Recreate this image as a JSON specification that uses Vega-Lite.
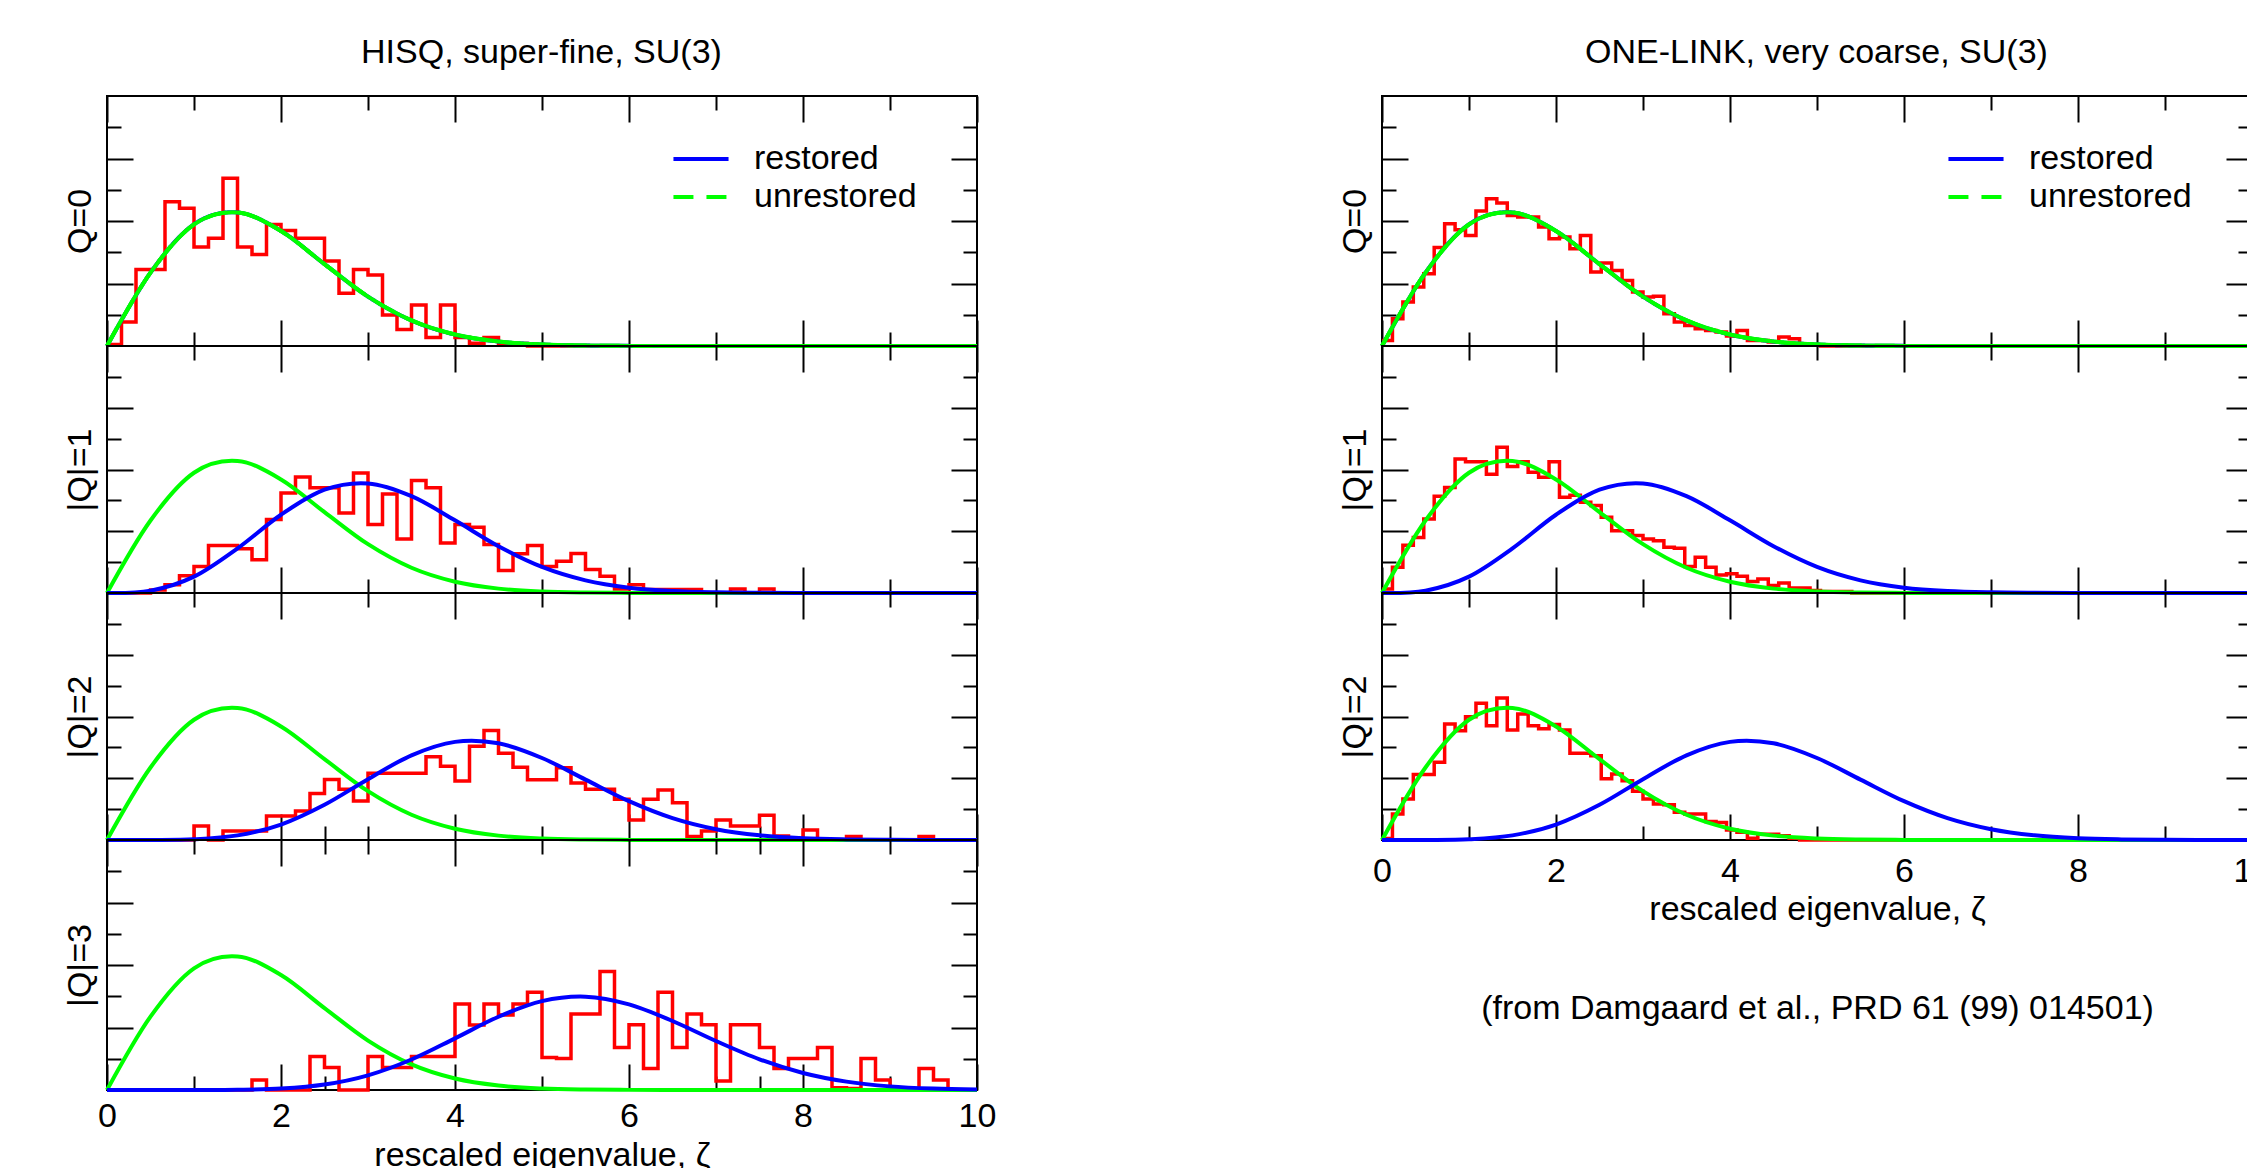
{
"$schema": "https://vega.github.io/schema/vega-lite/v6.json",
"background": "white",
"padding": {"left": 62, "top": 36, "right": 0, "bottom": 0},
"datasets": {
"curves": [
{"x":0,"p0":0,"p1":0,"p2":0,"p3":0},
{"x":0.5,"p0":0.2349,"p1":0.0075,"p2":0.0001,"p3":0},
{"x":1,"p0":0.3894,"p1":0.0529,"p2":0.0023,"p3":0.0001},
{"x":1.5,"p0":0.4273,"p1":0.1444,"p2":0.0149,"p3":0.0007},
{"x":2,"p0":0.3679,"p1":0.2535,"p2":0.0501,"p3":0.0046},
{"x":2.5,"p0":0.262,"p1":0.3345,"p2":0.1141,"p3":0.0175},
{"x":3,"p0":0.1581,"p1":0.355,"p2":0.1971,"p3":0.047},
{"x":3.5,"p0":0.0818,"p1":0.3137,"p2":0.2742,"p3":0.0977},
{"x":4,"p0":0.0366,"p1":0.2353,"p2":0.3178,"p3":0.1652},
{"x":4.5,"p0":0.0142,"p1":0.1516,"p2":0.3131,"p3":0.2344},
{"x":5,"p0":0.0048,"p1":0.0845,"p2":0.2656,"p3":0.2843},
{"x":5.5,"p0":0.0014,"p1":0.041,"p2":0.1956,"p3":0.2987},
{"x":6,"p0":0.0004,"p1":0.0173,"p2":0.1257,"p3":0.2741},
{"x":6.5,"p0":0.0001,"p1":0.0064,"p2":0.0708,"p3":0.2209},
{"x":7,"p0":0,"p1":0.0021,"p2":0.035,"p3":0.1568},
{"x":7.5,"p0":0,"p1":0.0006,"p2":0.0152,"p3":0.0983},
{"x":8,"p0":0,"p1":0.0001,"p2":0.0058,"p3":0.0545},
{"x":8.5,"p0":0,"p1":0,"p2":0.002,"p3":0.0268},
{"x":9,"p0":0,"p1":0,"p2":0.0006,"p3":0.0116},
{"x":9.5,"p0":0,"p1":0,"p2":0.0002,"p3":0.0045},
{"x":10,"p0":0,"p1":0,"p2":0,"p3":0.0015}
],
"hL0": [
{"x":0,"y":0.005},{"x":0.1667,"y":0.077},{"x":0.3333,"y":0.245},{"x":0.5,"y":0.245},{"x":0.6667,"y":0.462},{"x":0.8333,"y":0.441},{"x":1,"y":0.317},{"x":1.1667,"y":0.345},{"x":1.3333,"y":0.537},{"x":1.5,"y":0.317},{"x":1.6667,"y":0.293},{"x":1.8333,"y":0.389},{"x":2,"y":0.37},{"x":2.1667,"y":0.345},{"x":2.3333,"y":0.345},{"x":2.5,"y":0.272},{"x":2.6667,"y":0.169},{"x":2.8333,"y":0.245},{"x":3,"y":0.227},{"x":3.1667,"y":0.099},{"x":3.3333,"y":0.053},{"x":3.5,"y":0.131},{"x":3.6667,"y":0.027},{"x":3.8333,"y":0.131},{"x":4,"y":0.027},{"x":4.1667,"y":0.009},{"x":4.3333,"y":0.027},{"x":4.5,"y":0.008},{"x":4.6667,"y":0.008},{"x":4.8333,"y":0},{"x":10,"y":0}
],
"hL1": [
{"x":0,"y":0},{"x":0.5,"y":0.01},{"x":0.6667,"y":0.027},{"x":0.8333,"y":0.056},{"x":1,"y":0.086},{"x":1.1667,"y":0.154},{"x":1.3333,"y":0.154},{"x":1.5,"y":0.143},{"x":1.6667,"y":0.108},{"x":1.8333,"y":0.238},{"x":2,"y":0.324},{"x":2.1667,"y":0.376},{"x":2.3333,"y":0.341},{"x":2.5,"y":0.341},{"x":2.6667,"y":0.259},{"x":2.8333,"y":0.389},{"x":3,"y":0.222},{"x":3.1667,"y":0.321},{"x":3.3333,"y":0.175},{"x":3.5,"y":0.364},{"x":3.6667,"y":0.341},{"x":3.8333,"y":0.162},{"x":4,"y":0.222},{"x":4.1667,"y":0.213},{"x":4.3333,"y":0.157},{"x":4.5,"y":0.073},{"x":4.6667,"y":0.127},{"x":4.8333,"y":0.154},{"x":5,"y":0.086},{"x":5.1667,"y":0.103},{"x":5.3333,"y":0.128},{"x":5.5,"y":0.076},{"x":5.6667,"y":0.054},{"x":5.8333,"y":0.013},{"x":6,"y":0.027},{"x":6.1667,"y":0.011},{"x":6.3333,"y":0.011},{"x":6.5,"y":0.011},{"x":6.6667,"y":0.011},{"x":6.8333,"y":0},{"x":7.1667,"y":0.013},{"x":7.3333,"y":0},{"x":7.5,"y":0.013},{"x":7.6667,"y":0},{"x":10,"y":0}
],
"hL2": [
{"x":0,"y":0},{"x":1,"y":0.045},{"x":1.1667,"y":0},{"x":1.3333,"y":0.029},{"x":1.5,"y":0.029},{"x":1.6667,"y":0.029},{"x":1.8333,"y":0.078},{"x":2,"y":0.078},{"x":2.1667,"y":0.094},{"x":2.3333,"y":0.151},{"x":2.5,"y":0.196},{"x":2.6667,"y":0.164},{"x":2.8333,"y":0.126},{"x":3,"y":0.216},{"x":3.1667,"y":0.216},{"x":3.3333,"y":0.216},{"x":3.5,"y":0.216},{"x":3.6667,"y":0.27},{"x":3.8333,"y":0.239},{"x":4,"y":0.191},{"x":4.1667,"y":0.304},{"x":4.3333,"y":0.355},{"x":4.5,"y":0.281},{"x":4.6667,"y":0.236},{"x":4.8333,"y":0.195},{"x":5,"y":0.195},{"x":5.1667,"y":0.234},{"x":5.3333,"y":0.185},{"x":5.5,"y":0.164},{"x":5.6667,"y":0.164},{"x":5.8333,"y":0.132},{"x":6,"y":0.065},{"x":6.1667,"y":0.132},{"x":6.3333,"y":0.162},{"x":6.5,"y":0.121},{"x":6.6667,"y":0.011},{"x":6.8333,"y":0.029},{"x":7,"y":0.065},{"x":7.1667,"y":0.045},{"x":7.3333,"y":0.045},{"x":7.5,"y":0.08},{"x":7.6667,"y":0.013},{"x":7.8333,"y":0},{"x":8,"y":0.032},{"x":8.1667,"y":0},{"x":8.5,"y":0.011},{"x":8.6667,"y":0},{"x":9.3333,"y":0.011},{"x":9.5,"y":0},{"x":10,"y":0}
],
"hL3": [
{"x":0,"y":0},{"x":1.6667,"y":0.032},{"x":1.8333,"y":0},{"x":2.3333,"y":0.107},{"x":2.5,"y":0.072},{"x":2.6667,"y":0},{"x":3,"y":0.107},{"x":3.1667,"y":0.072},{"x":3.3333,"y":0.072},{"x":3.5,"y":0.107},{"x":3.6667,"y":0.107},{"x":3.8333,"y":0.107},{"x":4,"y":0.275},{"x":4.1667,"y":0.208},{"x":4.3333,"y":0.275},{"x":4.5,"y":0.24},{"x":4.6667,"y":0.275},{"x":4.8333,"y":0.313},{"x":5,"y":0.104},{"x":5.1667,"y":0.101},{"x":5.3333,"y":0.243},{"x":5.5,"y":0.243},{"x":5.6667,"y":0.379},{"x":5.8333,"y":0.136},{"x":6,"y":0.209},{"x":6.1667,"y":0.069},{"x":6.3333,"y":0.313},{"x":6.5,"y":0.136},{"x":6.6667,"y":0.243},{"x":6.8333,"y":0.209},{"x":7,"y":0.029},{"x":7.1667,"y":0.209},{"x":7.3333,"y":0.209},{"x":7.5,"y":0.136},{"x":7.6667,"y":0.069},{"x":7.8333,"y":0.101},{"x":8,"y":0.101},{"x":8.1667,"y":0.136},{"x":8.3333,"y":0.007},{"x":8.5,"y":0.005},{"x":8.6667,"y":0.101},{"x":8.8333,"y":0.032},{"x":9,"y":0},{"x":9.3333,"y":0.069},{"x":9.5,"y":0.032},{"x":9.6667,"y":0},{"x":10,"y":0}
],
"hR0": [
{"x":0,"y":0.018},{"x":0.12,"y":0.087},{"x":0.24,"y":0.141},{"x":0.36,"y":0.189},{"x":0.48,"y":0.231},{"x":0.6,"y":0.315},{"x":0.72,"y":0.391},{"x":0.84,"y":0.372},{"x":0.96,"y":0.354},{"x":1.08,"y":0.432},{"x":1.2,"y":0.471},{"x":1.32,"y":0.458},{"x":1.44,"y":0.418},{"x":1.56,"y":0.413},{"x":1.68,"y":0.413},{"x":1.8,"y":0.381},{"x":1.92,"y":0.343},{"x":2.04,"y":0.349},{"x":2.16,"y":0.311},{"x":2.28,"y":0.354},{"x":2.4,"y":0.237},{"x":2.52,"y":0.266},{"x":2.64,"y":0.242},{"x":2.76,"y":0.21},{"x":2.88,"y":0.173},{"x":3,"y":0.157},{"x":3.12,"y":0.159},{"x":3.24,"y":0.103},{"x":3.36,"y":0.077},{"x":3.48,"y":0.066},{"x":3.6,"y":0.055},{"x":3.72,"y":0.05},{"x":3.84,"y":0.045},{"x":3.96,"y":0.032},{"x":4.08,"y":0.05},{"x":4.2,"y":0.018},{"x":4.32,"y":0.018},{"x":4.44,"y":0.013},{"x":4.56,"y":0.029},{"x":4.68,"y":0.023},{"x":4.8,"y":0.007},{"x":4.92,"y":0.003},{"x":5.04,"y":0},{"x":10,"y":0}
],
"hR1": [
{"x":0,"y":0.013},{"x":0.12,"y":0.083},{"x":0.24,"y":0.155},{"x":0.36,"y":0.18},{"x":0.48,"y":0.24},{"x":0.6,"y":0.313},{"x":0.72,"y":0.342},{"x":0.84,"y":0.434},{"x":0.96,"y":0.425},{"x":1.08,"y":0.425},{"x":1.2,"y":0.385},{"x":1.32,"y":0.472},{"x":1.44,"y":0.41},{"x":1.56,"y":0.425},{"x":1.68,"y":0.391},{"x":1.8,"y":0.375},{"x":1.92,"y":0.425},{"x":2.04,"y":0.31},{"x":2.16,"y":0.317},{"x":2.28,"y":0.294},{"x":2.4,"y":0.283},{"x":2.52,"y":0.245},{"x":2.64,"y":0.202},{"x":2.76,"y":0.202},{"x":2.88,"y":0.186},{"x":3,"y":0.175},{"x":3.12,"y":0.169},{"x":3.24,"y":0.148},{"x":3.36,"y":0.145},{"x":3.48,"y":0.086},{"x":3.6,"y":0.116},{"x":3.72,"y":0.083},{"x":3.84,"y":0.058},{"x":3.96,"y":0.062},{"x":4.08,"y":0.054},{"x":4.2,"y":0.037},{"x":4.32,"y":0.045},{"x":4.44,"y":0.024},{"x":4.56,"y":0.032},{"x":4.68,"y":0.016},{"x":4.8,"y":0.016},{"x":4.92,"y":0.008},{"x":5.04,"y":0.005},{"x":5.16,"y":0.005},{"x":5.28,"y":0.005},{"x":5.4,"y":0},{"x":10,"y":0}
],
"hR2": [
{"x":0,"y":0.005},{"x":0.12,"y":0.084},{"x":0.24,"y":0.133},{"x":0.36,"y":0.212},{"x":0.48,"y":0.212},{"x":0.6,"y":0.252},{"x":0.72,"y":0.376},{"x":0.84,"y":0.354},{"x":0.96,"y":0.399},{"x":1.08,"y":0.443},{"x":1.2,"y":0.37},{"x":1.32,"y":0.46},{"x":1.44,"y":0.356},{"x":1.56,"y":0.408},{"x":1.68,"y":0.37},{"x":1.8,"y":0.36},{"x":1.92,"y":0.374},{"x":2.04,"y":0.356},{"x":2.16,"y":0.281},{"x":2.28,"y":0.281},{"x":2.4,"y":0.273},{"x":2.52,"y":0.198},{"x":2.64,"y":0.214},{"x":2.76,"y":0.192},{"x":2.88,"y":0.158},{"x":3,"y":0.133},{"x":3.12,"y":0.117},{"x":3.24,"y":0.114},{"x":3.36,"y":0.09},{"x":3.48,"y":0.084},{"x":3.6,"y":0.084},{"x":3.72,"y":0.06},{"x":3.84,"y":0.057},{"x":3.96,"y":0.032},{"x":4.08,"y":0.025},{"x":4.2,"y":0.006},{"x":4.32,"y":0.019},{"x":4.44,"y":0.019},{"x":4.56,"y":0.014},{"x":4.68,"y":0.006},{"x":4.8,"y":0},{"x":10,"y":0}
]
},
"spacing": 340,
"resolve": {"scale": {"color": "independent", "strokeDash": "independent"}, "legend": {"color": "independent", "strokeDash": "independent"}},
"hconcat": [
{
"title": {"text": "HISQ, super-fine, SU(3)", "offset": 24, "anchor": "middle", "frame": "bounds", "dx": 12},
"spacing": 0,
"bounds": "flush",
"vconcat": [
{"width": 870, "height": 250,
 "resolve": {"axis": {"x": "independent", "y": "independent"}},
 "layer": [
  {"data": {"name": "hL0"}, "mark": {"type": "line", "interpolate": "step-after", "color": "#ff0000", "strokeWidth": 3.5},
   "encoding": {
    "x": {"field": "x", "type": "quantitative", "scale": {"domain": [0, 10], "nice": false, "zero": false},
          "axis": {"orient": "bottom", "values": [0,1,2,3,4,5,6,7,8,9,10], "tickSize": {"condition": {"test": "datum.value % 2 === 0", "value": -26}, "value": -14}, "labels": false, "title": null}},
    "y": {"field": "y", "type": "quantitative", "scale": {"domain": [0, 0.8], "nice": false},
          "axis": {"orient": "left", "values": [0.1,0.2,0.3,0.4,0.5,0.6,0.7], "tickSize": {"condition": {"test": "round(datum.value * 10) % 2 === 0", "value": -26}, "value": -14}, "labels": false, "title": "Q=0", "titlePadding": 9}}}},
  {"data": {"name": "curves"}, "mark": {"type": "line", "interpolate": "cardinal", "strokeWidth": 4},
   "encoding": {
    "x": {"field": "x", "type": "quantitative", "axis": {"orient": "top", "values": [0,1,2,3,4,5,6,7,8,9,10], "tickSize": {"condition": {"test": "datum.value % 2 === 0", "value": -26}, "value": -14}, "labels": false, "title": null}},
    "y": {"field": "p0", "type": "quantitative", "axis": {"orient": "right", "values": [0.1,0.2,0.3,0.4,0.5,0.6,0.7], "tickSize": {"condition": {"test": "round(datum.value * 10) % 2 === 0", "value": -26}, "value": -14}, "labels": false, "title": null}},
    "color": {"datum": "restored", "scale": {"domain": ["restored", "unrestored"], "range": ["#0000ff", "#00ff00"]},
      "legend": {"orient": "none", "legendX": 573, "legendY": 42, "title": null, "direction": "vertical", "symbolType": "M-1.45,0H1.45", "symbolSize": 1444, "symbolStrokeWidth": 4, "labelFont": "Liberation Sans", "labelFontSize": 34, "labelColor": "black", "labelOffset": 32, "labelLimit": 0, "rowPadding": 0, "padding": 0}},
    "strokeDash": {"datum": "restored", "scale": {"domain": ["restored", "unrestored"], "range": [[1, 0], [20, 13]]},
      "legend": {"orient": "none", "legendX": 573, "legendY": 42, "title": null, "direction": "vertical", "symbolType": "M-1.45,0H1.45", "symbolSize": 1444, "symbolStrokeWidth": 4, "labelFont": "Liberation Sans", "labelFontSize": 34, "labelColor": "black", "labelOffset": 32, "labelLimit": 0, "rowPadding": 0, "padding": 0}}}},
  {"data": {"name": "curves"}, "mark": {"type": "line", "interpolate": "cardinal", "color": "#00ff00", "strokeWidth": 4},
   "encoding": {"x": {"field": "x", "type": "quantitative", "axis": null}, "y": {"field": "p0", "type": "quantitative", "axis": null}}},
  {"data": {"name": "curves"}, "mark": {"type": "line", "interpolate": "cardinal", "strokeWidth": 4},
   "encoding": {"x": {"field": "x", "type": "quantitative", "axis": null}, "y": {"field": "p0", "type": "quantitative", "axis": null},
    "color": {"datum": "unrestored"}, "strokeDash": {"datum": "unrestored"}}}
 ]},
{"width": 870, "height": 247,
 "resolve": {"axis": {"x": "independent", "y": "independent"}},
 "layer": [
  {"data": {"name": "hL1"}, "mark": {"type": "line", "interpolate": "step-after", "color": "#ff0000", "strokeWidth": 3.5},
   "encoding": {
    "x": {"field": "x", "type": "quantitative", "scale": {"domain": [0, 10], "nice": false, "zero": false},
          "axis": {"orient": "bottom", "values": [0,1,2,3,4,5,6,7,8,9,10], "tickSize": {"condition": {"test": "datum.value % 2 === 0", "value": -26}, "value": -14}, "labels": false, "title": null}},
    "y": {"field": "y", "type": "quantitative", "scale": {"domain": [0, 0.8], "nice": false},
          "axis": {"orient": "left", "values": [0.1,0.2,0.3,0.4,0.5,0.6,0.7], "tickSize": {"condition": {"test": "round(datum.value * 10) % 2 === 0", "value": -26}, "value": -14}, "labels": false, "title": "|Q|=1", "titlePadding": 9}}}},
  {"data": {"name": "curves"}, "mark": {"type": "line", "interpolate": "cardinal", "color": "#00ff00", "strokeWidth": 4},
   "encoding": {
    "x": {"field": "x", "type": "quantitative", "axis": {"orient": "top", "values": [0,1,2,3,4,5,6,7,8,9,10], "tickSize": {"condition": {"test": "datum.value % 2 === 0", "value": -26}, "value": -14}, "labels": false, "title": null}},
    "y": {"field": "p0", "type": "quantitative", "axis": {"orient": "right", "values": [0.1,0.2,0.3,0.4,0.5,0.6,0.7], "tickSize": {"condition": {"test": "round(datum.value * 10) % 2 === 0", "value": -26}, "value": -14}, "labels": false, "title": null}}}},
  {"data": {"name": "curves"}, "mark": {"type": "line", "interpolate": "cardinal", "color": "#0000ff", "strokeWidth": 4},
   "encoding": {"x": {"field": "x", "type": "quantitative", "axis": null}, "y": {"field": "p1", "type": "quantitative", "axis": null}}}
 ]},
{"width": 870, "height": 247,
 "resolve": {"axis": {"x": "independent", "y": "independent"}},
 "layer": [
  {"data": {"name": "hL2"}, "mark": {"type": "line", "interpolate": "step-after", "color": "#ff0000", "strokeWidth": 3.5},
   "encoding": {
    "x": {"field": "x", "type": "quantitative", "scale": {"domain": [0, 10], "nice": false, "zero": false},
          "axis": {"orient": "bottom", "values": [0,1,2,2.5,3,4,5,6,7,7.5,8,9,10], "tickSize": {"condition": {"test": "datum.value % 2 === 0", "value": -26}, "value": -14}, "labels": false, "title": null}},
    "y": {"field": "y", "type": "quantitative", "scale": {"domain": [0, 0.8], "nice": false},
          "axis": {"orient": "left", "values": [0.1,0.2,0.3,0.4,0.5,0.6,0.7], "tickSize": {"condition": {"test": "round(datum.value * 10) % 2 === 0", "value": -26}, "value": -14}, "labels": false, "title": "|Q|=2", "titlePadding": 9}}}},
  {"data": {"name": "curves"}, "mark": {"type": "line", "interpolate": "cardinal", "color": "#00ff00", "strokeWidth": 4},
   "encoding": {
    "x": {"field": "x", "type": "quantitative", "axis": {"orient": "top", "values": [0,1,2,3,4,5,6,7,8,9,10], "tickSize": {"condition": {"test": "datum.value % 2 === 0", "value": -26}, "value": -14}, "labels": false, "title": null}},
    "y": {"field": "p0", "type": "quantitative", "axis": {"orient": "right", "values": [0.1,0.2,0.3,0.4,0.5,0.6,0.7], "tickSize": {"condition": {"test": "round(datum.value * 10) % 2 === 0", "value": -26}, "value": -14}, "labels": false, "title": null}}}},
  {"data": {"name": "curves"}, "mark": {"type": "line", "interpolate": "cardinal", "color": "#0000ff", "strokeWidth": 4},
   "encoding": {"x": {"field": "x", "type": "quantitative", "axis": null}, "y": {"field": "p2", "type": "quantitative", "axis": null}}}
 ]},
{"width": 870, "height": 250,
 "resolve": {"axis": {"x": "independent", "y": "independent"}},
 "layer": [
  {"data": {"name": "hL3"}, "mark": {"type": "line", "interpolate": "step-after", "color": "#ff0000", "strokeWidth": 3.5},
   "encoding": {
    "x": {"field": "x", "type": "quantitative", "scale": {"domain": [0, 10], "nice": false, "zero": false},
          "axis": {"orient": "bottom", "values": [0,1,2,2.5,3,4,5,6,7,7.5,8,9,10], "tickSize": {"condition": {"test": "datum.value % 2 === 0", "value": -26}, "value": -14}, "labels": true, "labelExpr": "datum.value % 2 === 0 ? datum.label : ''", "labelPadding": 35.5, "title": "rescaled eigenvalue, ζ", "titlePadding": -7.5}},
    "y": {"field": "y", "type": "quantitative", "scale": {"domain": [0, 0.8], "nice": false},
          "axis": {"orient": "left", "values": [0.1,0.2,0.3,0.4,0.5,0.6,0.7], "tickSize": {"condition": {"test": "round(datum.value * 10) % 2 === 0", "value": -26}, "value": -14}, "labels": false, "title": "|Q|=3", "titlePadding": 9}}}},
  {"data": {"name": "curves"}, "mark": {"type": "line", "interpolate": "cardinal", "color": "#00ff00", "strokeWidth": 4},
   "encoding": {
    "x": {"field": "x", "type": "quantitative", "axis": {"orient": "top", "values": [0,1,2,2.5,3,4,5,6,7,7.5,8,9,10], "tickSize": {"condition": {"test": "datum.value % 2 === 0", "value": -26}, "value": -14}, "labels": false, "title": null}},
    "y": {"field": "p0", "type": "quantitative", "axis": {"orient": "right", "values": [0.1,0.2,0.3,0.4,0.5,0.6,0.7], "tickSize": {"condition": {"test": "round(datum.value * 10) % 2 === 0", "value": -26}, "value": -14}, "labels": false, "title": null}}}},
  {"data": {"name": "curves"}, "mark": {"type": "line", "interpolate": "cardinal", "color": "#0000ff", "strokeWidth": 4},
   "encoding": {"x": {"field": "x", "type": "quantitative", "axis": null}, "y": {"field": "p3", "type": "quantitative", "axis": null}}}
 ]}
]
},
{
"title": {"text": "ONE-LINK, very coarse, SU(3)", "offset": 24, "anchor": "middle", "frame": "bounds", "dx": 12},
"spacing": 0,
"bounds": "flush",
"vconcat": [
{"width": 870, "height": 250,
 "resolve": {"axis": {"x": "independent", "y": "independent"}},
 "layer": [
  {"data": {"name": "hR0"}, "mark": {"type": "line", "interpolate": "step-after", "color": "#ff0000", "strokeWidth": 3.5},
   "encoding": {
    "x": {"field": "x", "type": "quantitative", "scale": {"domain": [0, 10], "nice": false, "zero": false},
          "axis": {"orient": "bottom", "values": [0,1,2,3,4,5,6,7,8,9,10], "tickSize": {"condition": {"test": "datum.value % 2 === 0", "value": -26}, "value": -14}, "labels": false, "title": null}},
    "y": {"field": "y", "type": "quantitative", "scale": {"domain": [0, 0.8], "nice": false},
          "axis": {"orient": "left", "values": [0.1,0.2,0.3,0.4,0.5,0.6,0.7], "tickSize": {"condition": {"test": "round(datum.value * 10) % 2 === 0", "value": -26}, "value": -14}, "labels": false, "title": "Q=0", "titlePadding": 9}}}},
  {"data": {"name": "curves"}, "mark": {"type": "line", "interpolate": "cardinal", "strokeWidth": 4},
   "encoding": {
    "x": {"field": "x", "type": "quantitative", "axis": {"orient": "top", "values": [0,1,2,3,4,5,6,7,8,9,10], "tickSize": {"condition": {"test": "datum.value % 2 === 0", "value": -26}, "value": -14}, "labels": false, "title": null}},
    "y": {"field": "p0", "type": "quantitative", "axis": {"orient": "right", "values": [0.1,0.2,0.3,0.4,0.5,0.6,0.7], "tickSize": {"condition": {"test": "round(datum.value * 10) % 2 === 0", "value": -26}, "value": -14}, "labels": false, "title": null}},
    "color": {"datum": "restored", "scale": {"domain": ["restored", "unrestored"], "range": ["#0000ff", "#00ff00"]},
      "legend": {"orient": "none", "legendX": 573, "legendY": 42, "title": null, "direction": "vertical", "symbolType": "M-1.45,0H1.45", "symbolSize": 1444, "symbolStrokeWidth": 4, "labelFont": "Liberation Sans", "labelFontSize": 34, "labelColor": "black", "labelOffset": 32, "labelLimit": 0, "rowPadding": 0, "padding": 0}},
    "strokeDash": {"datum": "restored", "scale": {"domain": ["restored", "unrestored"], "range": [[1, 0], [20, 13]]},
      "legend": {"orient": "none", "legendX": 573, "legendY": 42, "title": null, "direction": "vertical", "symbolType": "M-1.45,0H1.45", "symbolSize": 1444, "symbolStrokeWidth": 4, "labelFont": "Liberation Sans", "labelFontSize": 34, "labelColor": "black", "labelOffset": 32, "labelLimit": 0, "rowPadding": 0, "padding": 0}}}},
  {"data": {"name": "curves"}, "mark": {"type": "line", "interpolate": "cardinal", "color": "#00ff00", "strokeWidth": 4},
   "encoding": {"x": {"field": "x", "type": "quantitative", "axis": null}, "y": {"field": "p0", "type": "quantitative", "axis": null}}},
  {"data": {"name": "curves"}, "mark": {"type": "line", "interpolate": "cardinal", "strokeWidth": 4},
   "encoding": {"x": {"field": "x", "type": "quantitative", "axis": null}, "y": {"field": "p0", "type": "quantitative", "axis": null},
    "color": {"datum": "unrestored"}, "strokeDash": {"datum": "unrestored"}}}
 ]},
{"width": 870, "height": 247,
 "resolve": {"axis": {"x": "independent", "y": "independent"}},
 "layer": [
  {"data": {"name": "hR1"}, "mark": {"type": "line", "interpolate": "step-after", "color": "#ff0000", "strokeWidth": 3.5},
   "encoding": {
    "x": {"field": "x", "type": "quantitative", "scale": {"domain": [0, 10], "nice": false, "zero": false},
          "axis": {"orient": "bottom", "values": [0,1,2,3,4,5,6,7,8,9,10], "tickSize": {"condition": {"test": "datum.value % 2 === 0", "value": -26}, "value": -14}, "labels": false, "title": null}},
    "y": {"field": "y", "type": "quantitative", "scale": {"domain": [0, 0.8], "nice": false},
          "axis": {"orient": "left", "values": [0.1,0.2,0.3,0.4,0.5,0.6,0.7], "tickSize": {"condition": {"test": "round(datum.value * 10) % 2 === 0", "value": -26}, "value": -14}, "labels": false, "title": "|Q|=1", "titlePadding": 9}}}},
  {"data": {"name": "curves"}, "mark": {"type": "line", "interpolate": "cardinal", "color": "#00ff00", "strokeWidth": 4},
   "encoding": {
    "x": {"field": "x", "type": "quantitative", "axis": {"orient": "top", "values": [0,1,2,3,4,5,6,7,8,9,10], "tickSize": {"condition": {"test": "datum.value % 2 === 0", "value": -26}, "value": -14}, "labels": false, "title": null}},
    "y": {"field": "p0", "type": "quantitative", "axis": {"orient": "right", "values": [0.1,0.2,0.3,0.4,0.5,0.6,0.7], "tickSize": {"condition": {"test": "round(datum.value * 10) % 2 === 0", "value": -26}, "value": -14}, "labels": false, "title": null}}}},
  {"data": {"name": "curves"}, "mark": {"type": "line", "interpolate": "cardinal", "color": "#0000ff", "strokeWidth": 4},
   "encoding": {"x": {"field": "x", "type": "quantitative", "axis": null}, "y": {"field": "p1", "type": "quantitative", "axis": null}}}
 ]},
{"width": 870, "height": 247,
 "resolve": {"axis": {"x": "independent", "y": "independent"}},
 "layer": [
  {"data": {"name": "hR2"}, "mark": {"type": "line", "interpolate": "step-after", "color": "#ff0000", "strokeWidth": 3.5},
   "encoding": {
    "x": {"field": "x", "type": "quantitative", "scale": {"domain": [0, 10], "nice": false, "zero": false},
          "axis": {"orient": "bottom", "values": [0,1,2,3,4,5,6,7,8,9,10], "tickSize": {"condition": {"test": "datum.value % 2 === 0", "value": -26}, "value": -14}, "labels": true, "labelExpr": "datum.value % 2 === 0 ? datum.label : ''", "labelPadding": 40, "title": ["rescaled eigenvalue, ζ", "(from Damgaard et al., PRD 61 (99) 014501)"], "titleLineHeight": 99, "titlePadding": -8}},
    "y": {"field": "y", "type": "quantitative", "scale": {"domain": [0, 0.8], "nice": false},
          "axis": {"orient": "left", "values": [0.1,0.2,0.3,0.4,0.5,0.6,0.7], "tickSize": {"condition": {"test": "round(datum.value * 10) % 2 === 0", "value": -26}, "value": -14}, "labels": false, "title": "|Q|=2", "titlePadding": 9}}}},
  {"data": {"name": "curves"}, "mark": {"type": "line", "interpolate": "cardinal", "color": "#00ff00", "strokeWidth": 4},
   "encoding": {
    "x": {"field": "x", "type": "quantitative", "axis": {"orient": "top", "values": [0,1,2,3,4,5,6,7,8,9,10], "tickSize": {"condition": {"test": "datum.value % 2 === 0", "value": -26}, "value": -14}, "labels": false, "title": null}},
    "y": {"field": "p0", "type": "quantitative", "axis": {"orient": "right", "values": [0.1,0.2,0.3,0.4,0.5,0.6,0.7], "tickSize": {"condition": {"test": "round(datum.value * 10) % 2 === 0", "value": -26}, "value": -14}, "labels": false, "title": null}}}},
  {"data": {"name": "curves"}, "mark": {"type": "line", "interpolate": "cardinal", "color": "#0000ff", "strokeWidth": 4},
   "encoding": {"x": {"field": "x", "type": "quantitative", "axis": null}, "y": {"field": "p2", "type": "quantitative", "axis": null}}}
 ]}
]
}
],
"config": {
 "font": "Liberation Sans",
 "view": {"stroke": "black", "strokeWidth": 2},
 "axis": {"domain": false, "grid": false, "tickColor": "black", "tickWidth": 2, "labelFont": "Liberation Sans", "labelFontSize": 34, "labelColor": "black", "titleFont": "Liberation Sans", "titleFontSize": 34, "titleFontWeight": "normal", "titleColor": "black", "minExtent": 0, "labelOverlap": false, "labelFlush": false},
 "title": {"font": "Liberation Sans", "fontSize": 34, "fontWeight": "normal", "color": "black"}
}
}
